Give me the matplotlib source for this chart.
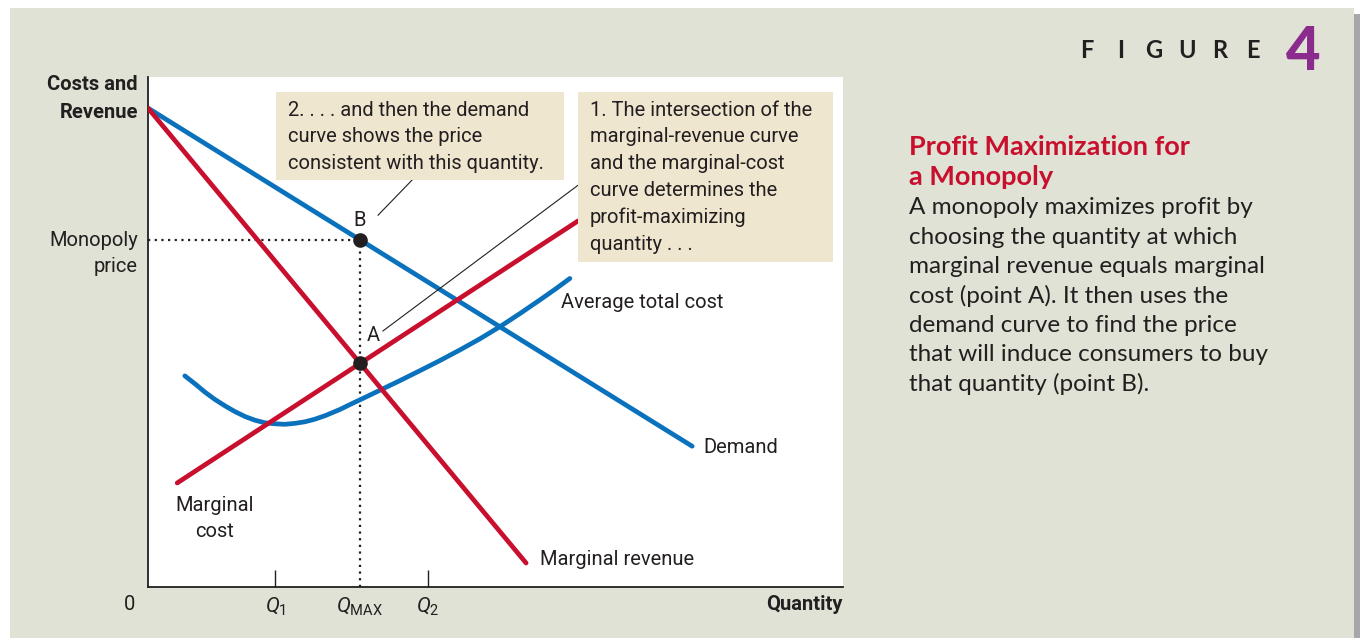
import numpy as np
import matplotlib.pyplot as plt
from matplotlib.patches import Rectangle

plt.rcParams['font.family'] = ['Roboto', 'DejaVu Sans']
plt.rcParams['mathtext.fontset'] = 'custom'
plt.rcParams['mathtext.rm'] = 'Roboto'
plt.rcParams['mathtext.it'] = 'Roboto:italic'

W, H = 1360, 638

# demand, marginal revenue, marginal cost (straight lines: end points)
demand_q = [0.0, 7.83]
demand_p = [9.39, 2.76]
mr_q = [0.0, 5.44]
mr_p = [9.39, 0.47]
mc_q = [0.42, 6.19]
mc_p = [2.04, 7.18]

# average total cost, U-shaped
atc_q = [0.53, 0.68, 0.82, 0.96, 1.11, 1.25, 1.40, 1.54, 1.68, 1.83, 1.97, 2.12,
         2.26, 2.40, 2.55, 2.76, 2.91, 3.05, 3.34, 3.63, 3.91, 4.20, 4.49, 4.78,
         5.07, 5.35, 5.64, 5.86, 6.07]
atc_p = [4.14, 3.98, 3.82, 3.68, 3.55, 3.44, 3.34, 3.27, 3.22, 3.20, 3.19, 3.21,
         3.24, 3.29, 3.36, 3.48, 3.58, 3.67, 3.86, 4.05, 4.24, 4.44, 4.65, 4.87,
         5.11, 5.36, 5.63, 5.84, 6.05]

q_1, q_max, q_2 = 1.83, 3.05, 4.03
monopoly_price = 6.81   # point B on demand
mr_equals_mc = 4.39     # point A

x_tick_labels = ['$Q_1$', r'$Q_{\mathrm{MAX}}$', '$Q_2$']

body_lines = [
    'A monopoly maximizes profit by',
    'choosing the quantity at which',
    'marginal revenue equals marginal',
    'cost (point A). It then uses the',
    'demand curve to find the price',
    'that will induce consumers to buy',
    'that quantity (point B).',
]

RED = '#c8102e'
BLUE = '#0a72bd'
INK = '#231f20'
PANEL = '#dfe2d4'
NOTE = '#efe6d0'
FS = 14.5


def fx(px):
    return px / W


def fy(py):
    return 1 - py / H


fig = plt.figure(figsize=(W / 100, H / 100), dpi=100)
fig.patch.set_facecolor('white')

# page panel and its shadow edge
fig.patches.append(Rectangle((fx(10), 0), fx(1354) - fx(10), fy(8), transform=fig.transFigure,
                             facecolor=PANEL, edgecolor='none', zorder=0))
fig.patches.append(Rectangle((fx(1354), 0), fx(6), fy(14), transform=fig.transFigure,
                             facecolor='#a6a7ab', edgecolor='none', zorder=0))

# fading header band behind "FIGURE 4"
band = fig.add_axes([fx(760), fy(90), fx(1354 - 760), (90 - 8) / H], zorder=0)
c0 = np.array([223, 226, 212]) / 255
c1 = np.array([252, 252, 249]) / 255
t = np.linspace(0, 1, 300) ** 0.8
grad = (c0[None, :] * (1 - t[:, None]) + c1[None, :] * t[:, None])[None, :, :]
band.imshow(grad, aspect='auto', extent=[0, 1, 0, 1])
band.axis('off')

ax = fig.add_axes([fx(148), fy(587), fx(843 - 148), (587 - 77) / H], zorder=1)
ax.set_xlim(0, 10)
ax.set_ylim(0, 10)
ax.set_facecolor('white')
for s in ['top', 'right']:
    ax.spines[s].set_visible(False)
for s in ['left', 'bottom']:
    ax.spines[s].set_linewidth(1.3)
    ax.spines[s].set_color(INK)

ax.set_yticks([])
ax.set_xticks([q_1, q_max, q_2], labels=x_tick_labels)
ax.tick_params(axis='x', direction='in', length=12, width=1, color=INK,
               pad=6, labelsize=15, labelcolor=INK)
ax.xaxis.get_major_ticks()[1].tick1line.set_visible(False)

dots = (0, (1, 2))
ax.plot([0, q_max], [monopoly_price, monopoly_price], ls=dots, lw=1.6, color=INK, zorder=2)
ax.plot([q_max, q_max], [0, monopoly_price], ls=dots, lw=1.6, color=INK, zorder=2)

line_kw = dict(lw=3.4, solid_capstyle='round', solid_joinstyle='round', zorder=3)
ax.plot(atc_q, atc_p, color=BLUE, **line_kw)
ax.plot(demand_q, demand_p, color=BLUE, **line_kw)
ax.plot(mc_q, mc_p, color=RED, **line_kw)
ax.plot(mr_q, mr_p, color=RED, **line_kw)

ax.plot([q_max, q_max], [monopoly_price, mr_equals_mc], 'o', ms=9.5, color=INK, zorder=5)

# point labels and leaders
ax.text(3.05, 7.18, 'B', fontsize=FS, color=INK, ha='center', va='center')
ax.text(3.24, 4.93, 'A', fontsize=FS, color=INK, ha='center', va='center')
ax.plot([3.31, 3.80], [7.29, 7.98], color=INK, lw=0.8, zorder=4)
ax.plot([3.38, 6.19], [5.02, 7.88], color=INK, lw=0.8, zorder=4)

# curve labels
lab = dict(fontsize=FS, color=INK, va='center')
ax.text(5.94, 5.57, 'Average total cost', ha='left', **lab)
ax.text(7.99, 2.73, 'Demand', ha='left', **lab)
ax.text(5.64, 0.53, 'Marginal revenue', ha='left', **lab)
ax.text(0.96, 1.34, 'Marginal\ncost', ha='center', linespacing=1.5, **lab)

# explanation notes
ax.add_patch(Rectangle((1.84, 7.98), 4.14, 1.72, facecolor=NOTE, edgecolor='none', zorder=6))
ax.add_patch(Rectangle((6.19, 6.37), 3.67, 3.33, facecolor=NOTE, edgecolor='none', zorder=6))
note2 = ['2. . . . and then the demand', 'curve shows the price',
         'consistent with this quantity.']
note1 = ['1. The intersection of the', 'marginal-revenue curve',
         'and the marginal-cost', 'curve determines the',
         'profit-maximizing', 'quantity . . .']
for i, s in enumerate(note2):
    ax.text(2.01, 9.35 - i * 0.522, s, fontsize=FS, color=INK, va='center', zorder=7)
for i, s in enumerate(note1):
    ax.text(6.36, 9.35 - i * 0.525, s, fontsize=FS, color=INK, va='center', zorder=7)

# axis titles
fig.text(fx(138), fy(85), 'Costs and', fontsize=FS, fontweight='bold', color=INK,
         ha='right', va='center')
fig.text(fx(138), fy(112), 'Revenue', fontsize=FS, fontweight='bold', color=INK,
         ha='right', va='center')
fig.text(fx(138), fy(241), 'Monopoly', fontsize=FS, color=INK, ha='right', va='center')
fig.text(fx(138), fy(266), 'price', fontsize=FS, color=INK, ha='right', va='center')
fig.text(fx(843), fy(605), 'Quantity', fontsize=FS, fontweight='bold', color=INK,
         ha='right', va='center')
fig.text(fx(130), fy(605), '0', fontsize=FS, color=INK, ha='center', va='center')

# figure tag
for i, ch in enumerate('FIGURE'):
    fig.text(fx(1087 + i * 33.2), fy(51), ch, family='Lato', fontsize=17, fontweight='bold',
             color=INK, ha='center', va='center')
fig.text(fx(1303), fy(52), '4', family='Lato', fontsize=43, fontweight='black',
         color='#8b2b8e', ha='center', va='center')

# caption
fig.text(fx(909), fy(147), 'Profit Maximization for', family='Lato', fontsize=19.5,
         fontweight='bold', color=RED, ha='left', va='center')
fig.text(fx(909), fy(177), 'a Monopoly', family='Lato', fontsize=19.5,
         fontweight='bold', color=RED, ha='left', va='center')
for i, s in enumerate(body_lines):
    fig.text(fx(909), fy(208 + i * 29.3), s, family='Lato', fontsize=17.5, color=INK,
             ha='left', va='center')

fig.savefig('out.png', dpi=100)
